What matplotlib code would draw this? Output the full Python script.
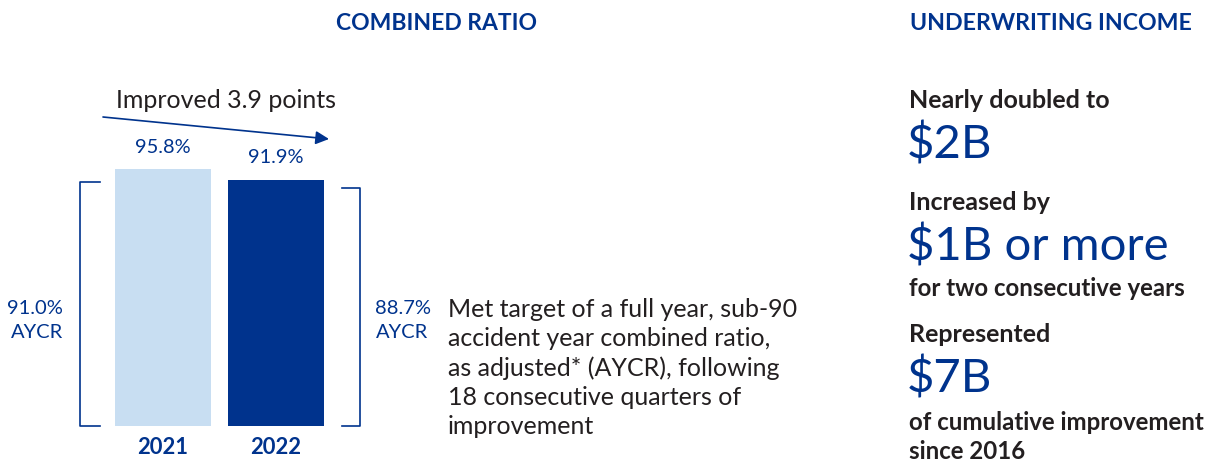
import matplotlib.pyplot as plt

W, H = 1228, 461
navy = '#00338D'
light = '#C8DEF2'
dark = '#231F20'

years = ['2021', '2022']
combined = [95.8, 91.9]
aycr = [91.0, 88.7]
headline = 'Improved 3.9 points'
note = ('Met target of a full year, sub-90\naccident year combined ratio,\n'
        'as adjusted* (AYCR), following\n18 consecutive quarters of\nimprovement')
uw_labels = ['Nearly doubled to', 'Increased by', 'Represented']
uw_values = ['$2B', '$1B or more', '$7B']
uw_subs = ['', 'for two consecutive years', 'of cumulative improvement\nsince 2016']

plt.rcParams['font.family'] = ['Lato', 'DejaVu Sans']


def fx(x):
    return x / W


def fy(y):
    return 1 - y / H


fig = plt.figure(figsize=(W / 100, H / 100), dpi=100)

# bar panel, baseline at y=426 px
ax = fig.add_axes([0, 35 / H, 460 / W, 268 / H])
ax.set_xlim(-1.442, 2.628)
ax.set_ylim(0, 100)
ax.axis('off')

ax.bar(range(2), combined, width=0.85, color=[light, navy])
for i, v in enumerate(combined):
    ax.text(i, v + 8.2, f'{v}%', ha='center', va='center', color=navy, fontsize=14.4)
    ax.text(i, -8, years[i], ha='center', va='center', color=navy,
            fontsize=15.8, fontweight='bold')

# AYCR brackets
ax.plot([-0.558, -0.735, -0.735, -0.558], [aycr[0], aycr[0], 0, 0],
        color=navy, lw=1.2, clip_on=False)
ax.plot([1.584, 1.743, 1.743, 1.584], [aycr[1], aycr[1], 0, 0],
        color=navy, lw=1.2, clip_on=False)
ax.text(-0.885, 39.5, f'{aycr[0]}%\nAYCR', ha='right', va='center', color=navy,
        fontsize=14.5, linespacing=1.5)
ax.text(1.88, 39.5, f'{aycr[1]}%\nAYCR', ha='left', va='center', color=navy,
        fontsize=14.5, linespacing=1.5)

# headline arrow
fig.text(fx(116), fy(101), headline, ha='left', va='center', color=dark, fontsize=18)
ax.annotate('', xy=(fx(329), fy(139)), xytext=(fx(103), fy(117)),
            xycoords='figure fraction', textcoords='figure fraction',
            arrowprops=dict(arrowstyle='-|>', color=navy, lw=1.2,
                            mutation_scale=20, shrinkA=0, shrinkB=0))

fig.text(fx(448), fy(368), note, ha='left', va='center', color=dark,
         fontsize=18, linespacing=1.32)

# titles
fig.text(fx(436), fy(24), 'COMBINED RATIO', ha='center', va='center',
         color=navy, fontsize=16.5, fontweight='bold')
fig.text(fx(1051), fy(24), 'UNDERWRITING INCOME', ha='center', va='center',
         color=navy, fontsize=16.7, fontweight='bold')

# underwriting income column
label_y = [101, 202, 335]
value_y = [145, 246, 378]
sub_y = [None, 288, 437]
for lab, val, sub, ly, vy, sy in zip(uw_labels, uw_values, uw_subs, label_y, value_y, sub_y):
    fig.text(fx(909), fy(ly), lab, ha='left', va='center', color=dark,
             fontsize=18, fontweight='bold')
    fig.text(fx(907), fy(vy), val, ha='left', va='center', color=navy, fontsize=34)
    if sub:
        fig.text(fx(909), fy(sy), sub, ha='left', va='center', color=dark,
                 fontsize=17.3, fontweight='bold', linespacing=1.32)

fig.savefig('out.png', dpi=100)
